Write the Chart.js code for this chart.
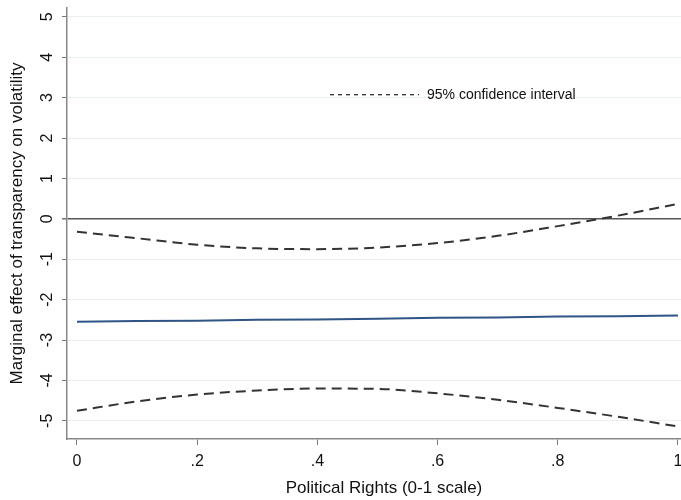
<!DOCTYPE html>
<html>
<head>
<meta charset="utf-8">
<script src="https://cdn.jsdelivr.net/npm/chart.js@4.4.1/dist/chart.umd.min.js"></script>
<style>
  html, body { margin: 0; padding: 0; background: #ffffff; }
  #c { display: block; }
</style>
</head>
<body>
<canvas id="c" width="681" height="500"></canvas>
<script>
// ---- Data ----
const xValues      = [0, 0.1, 0.2, 0.3, 0.4, 0.5, 0.6, 0.7, 0.8, 0.9, 1.0];
const marginalEffect = [-2.55, -2.53, -2.52, -2.50, -2.49, -2.47, -2.45, -2.44, -2.42, -2.41, -2.39];
const upperCI      = [-0.32, -0.48, -0.64, -0.73, -0.75, -0.71, -0.60, -0.42, -0.18, 0.08, 0.37];
const lowerCI      = [-4.75, -4.52, -4.35, -4.25, -4.20, -4.21, -4.32, -4.48, -4.68, -4.90, -5.14];
const xTickValues  = [0, 0.2, 0.4, 0.6, 0.8, 1];
const xTickLabels  = ['0', '.2', '.4', '.6', '.8', '1'];
const yTickValues  = [-5, -4, -3, -2, -1, 0, 1, 2, 3, 4, 5];
const yTickLabels  = ['-5', '-4', '-3', '-2', '-1', '0', '1', '2', '3', '4', '5'];
const xTitle = 'Political Rights (0-1 scale)';
const yTitle = 'Marginal effect of transparency on volatility';
const legendText = '95% confidence interval';

const FONT = 'Liberation Sans, Arial, Helvetica, sans-serif';

const toPoints = (ys) => xValues.map((x, i) => ({ x: x, y: ys[i] }));

const overlayPlugin = {
  id: 'overlay',
  afterDraw(chart) {
    const ctx = chart.ctx;
    const ys = chart.scales.y;
    const xs = chart.scales.x;
    ctx.save();
    ctx.fillStyle = '#111111';
    // rotated y tick labels (Stata style)
    ctx.font = '16px ' + FONT;
    ctx.textAlign = 'center';
    ctx.textBaseline = 'middle';
    yTickValues.forEach((v, i) => {
      const py = ys.getPixelForValue(v);
      ctx.save();
      ctx.translate(48, py);
      ctx.rotate(-Math.PI / 2);
      ctx.fillText(yTickLabels[i], 0, 0);
      ctx.restore();
    });
    // x tick labels
    xTickValues.forEach((v, i) => {
      ctx.fillText(xTickLabels[i], xs.getPixelForValue(v), 462);
    });
    // x axis title
    ctx.font = '17px ' + FONT;
    ctx.fillText(xTitle, 384, 488);
    // legend inside plot area
    const ly = ys.getPixelForValue(3) - 3;
    ctx.strokeStyle = '#333333';
    ctx.lineWidth = 1.3;
    ctx.setLineDash([4, 4]);
    ctx.beginPath();
    ctx.moveTo(330, ly);
    ctx.lineTo(419, ly);
    ctx.stroke();
    ctx.setLineDash([]);
    ctx.font = '14px ' + FONT;
    ctx.textAlign = 'left';
    ctx.fillText(legendText, 427, ly);
    ctx.restore();
  }
};

new Chart(document.getElementById('c'), {
  type: 'line',
  data: {
    datasets: [
      {
        label: 'Marginal effect',
        data: toPoints(marginalEffect),
        borderColor: '#2f5486',
        borderWidth: 2,
        pointRadius: 0,
        tension: 0
      },
      {
        label: 'Upper 95% CI',
        data: toPoints(upperCI),
        borderColor: '#333333',
        borderWidth: 2,
        borderDash: [10, 6],
        pointRadius: 0,
        cubicInterpolationMode: 'monotone'
      },
      {
        label: 'Lower 95% CI',
        data: toPoints(lowerCI),
        borderColor: '#333333',
        borderWidth: 2,
        borderDash: [10, 6],
        pointRadius: 0,
        cubicInterpolationMode: 'monotone'
      }
    ]
  },
  options: {
    responsive: false,
    animation: false,
    devicePixelRatio: 1,
    layout: { padding: { top: 8, right: 0, bottom: 0, left: 0 } },
    plugins: {
      legend: { display: false },
      tooltip: { enabled: false }
    },
    scales: {
      x: {
        type: 'linear',
        min: -0.0166,
        max: 1.005,
        afterBuildTicks: (s) => { s.ticks = xTickValues.map(v => ({ value: v })); },
        afterFit: (s) => { s.height = 61; s.paddingLeft = 0; s.paddingRight = 0; },
        border: { display: true, color: '#888888', width: 1.5 },
        grid: { drawOnChartArea: false, drawTicks: true, tickLength: 6, color: '#777777' },
        ticks: { display: false },
        title: { display: false }
      },
      y: {
        type: 'linear',
        min: -5.45,
        max: 5.22,
        afterBuildTicks: (s) => { s.ticks = yTickValues.map(v => ({ value: v })); },
        afterFit: (s) => { s.width = 67; s.paddingTop = 0; s.paddingBottom = 0; },
        border: { display: true, color: '#888888', width: 1.5 },
        grid: {
          drawTicks: true,
          tickLength: 5,
          color: (c) => (c.tick && c.tick.value === 0) ? '#555555' : '#e9f0f0',
          lineWidth: (c) => (c.tick && c.tick.value === 0) ? 1.6 : 1,
          tickColor: '#777777'
        },
        ticks: { display: false },
        title: {
          display: true,
          text: yTitle,
          color: '#111111',
          font: { family: FONT, size: 17 },
          padding: { top: 7, bottom: 0 }
        }
      }
    }
  },
  plugins: [overlayPlugin]
});
</script>
</body>
</html>
